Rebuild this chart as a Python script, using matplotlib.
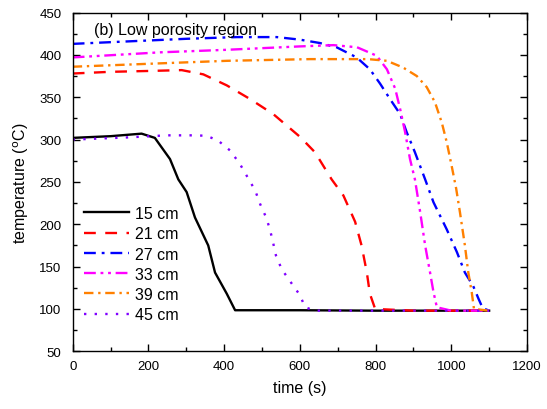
import matplotlib
matplotlib.use("Agg")
import matplotlib.pyplot as plt
from matplotlib.ticker import MultipleLocator

plt.rcParams['font.family'] = ['Liberation Sans', 'DejaVu Sans']

# Temperature histories at six heights (time in s, temperature in °C)
t_15 = [0, 100, 182, 217, 257, 279, 301, 323, 358, 376, 407, 429, 600, 800, 1000, 1100]
T_15 = [302, 304, 307, 302, 277, 253, 238, 208, 175, 143, 118, 98.5, 98.5, 98, 98, 98]

t_21 = [0, 100, 200, 288, 345, 407, 468, 530, 601, 640, 684, 715, 746, 763, 777, 785, 799, 900, 1000, 1100]
T_21 = [378, 380, 381, 382, 377, 364, 348, 330, 303, 285, 253, 234, 203, 175, 143, 118, 100, 98, 98, 98]

t_27 = [0, 150, 301, 433, 539, 600, 653, 697, 750, 785, 812, 838, 865, 882, 904, 931, 953, 988,
        1015, 1036, 1058, 1072, 1083, 1100]
T_27 = [413, 416, 419, 421, 421, 418, 414, 409, 397, 383, 366, 348, 330, 309, 285, 253, 226, 194,
        167, 143, 127, 112, 101, 98]

t_33 = [0, 231, 407, 600, 689, 751, 803, 830, 852, 865, 878, 891, 904, 918, 931, 944, 953, 962,
        1000, 1100]
T_33 = [397, 403, 406, 410, 411.5, 409, 399, 383, 360, 336, 309, 277, 253, 214, 175, 143, 120, 102,
        98, 98]

t_39 = [0, 231, 408, 627, 780, 830, 873, 909, 935, 957, 975, 988, 1001, 1013, 1023, 1036, 1045,
        1054, 1060, 1100]
T_39 = [386, 390, 393, 395, 395, 393, 385, 375, 362, 344, 320, 297, 269, 242, 214, 175, 143,
        120, 100, 98]

t_45 = [0, 143, 248, 319, 354, 385, 416, 442, 460, 482, 495, 511, 521, 530, 537, 552, 577, 600,
        614, 640, 800, 1000, 1100]
T_45 = [300, 302.5, 305, 305, 304.5, 298.5, 287, 271, 257, 240, 224, 208, 194, 177, 163, 147, 131,
        116.5, 102, 98, 98, 98, 98]

labels = ['15 cm', '21 cm', '27 cm', '33 cm', '39 cm', '45 cm']
colors = ['black', '#FF0000', '#0000FF', '#FF00FF', '#FF8000', '#8000FF']
styles = ['-', (0, (5, 4)), (0, (5, 2.5, 1.2, 2.5)), (0, (5, 2, 1.2, 2, 1.2, 2)),
          (0, (4, 2, 1, 2)), (0, (1, 3.5))]

fig = plt.figure(figsize=(5.47, 4.10), dpi=100)
ax = fig.add_axes([0.1329, 0.1407, 0.8305, 0.8263])

series = [(t_15, T_15), (t_21, T_21), (t_27, T_27), (t_33, T_33), (t_39, T_39), (t_45, T_45)]
for (t, T), lab, c, ls in zip(series, labels, colors, styles):
    ax.plot(t, T, color=c, linestyle=ls, linewidth=1.7, label=lab)

ax.set_xlim(0, 1200)
ax.set_ylim(50, 450)
ax.xaxis.set_major_locator(MultipleLocator(200))
ax.xaxis.set_minor_locator(MultipleLocator(100))
ax.yaxis.set_major_locator(MultipleLocator(50))
ax.yaxis.set_minor_locator(MultipleLocator(25))
ax.tick_params(which='both', direction='in', top=True, right=True, labelsize=9.5, width=1)
ax.tick_params(axis='x', which='major', pad=6)
ax.tick_params(axis='y', which='major', pad=8)
ax.tick_params(which='major', length=5)
ax.tick_params(which='minor', length=3)
for s in ax.spines.values():
    s.set_linewidth(1)

ax.set_xlabel('time (s)', fontsize=11.5, labelpad=6)
ax.set_ylabel(r'temperature ($^{\mathrm{o}}$C)', fontsize=11.5, labelpad=6)
ax.text(0.047, 0.973, '(b) Low porosity region', transform=ax.transAxes,
        fontsize=11.5, va='top', ha='left')

ax.legend(loc='upper left', bbox_to_anchor=(0.0, 0.462), frameon=False, fontsize=11.5,
          handlelength=2.8, handletextpad=0.4, labelspacing=0.33, borderaxespad=0.3)

fig.savefig('out.png', dpi=100)
